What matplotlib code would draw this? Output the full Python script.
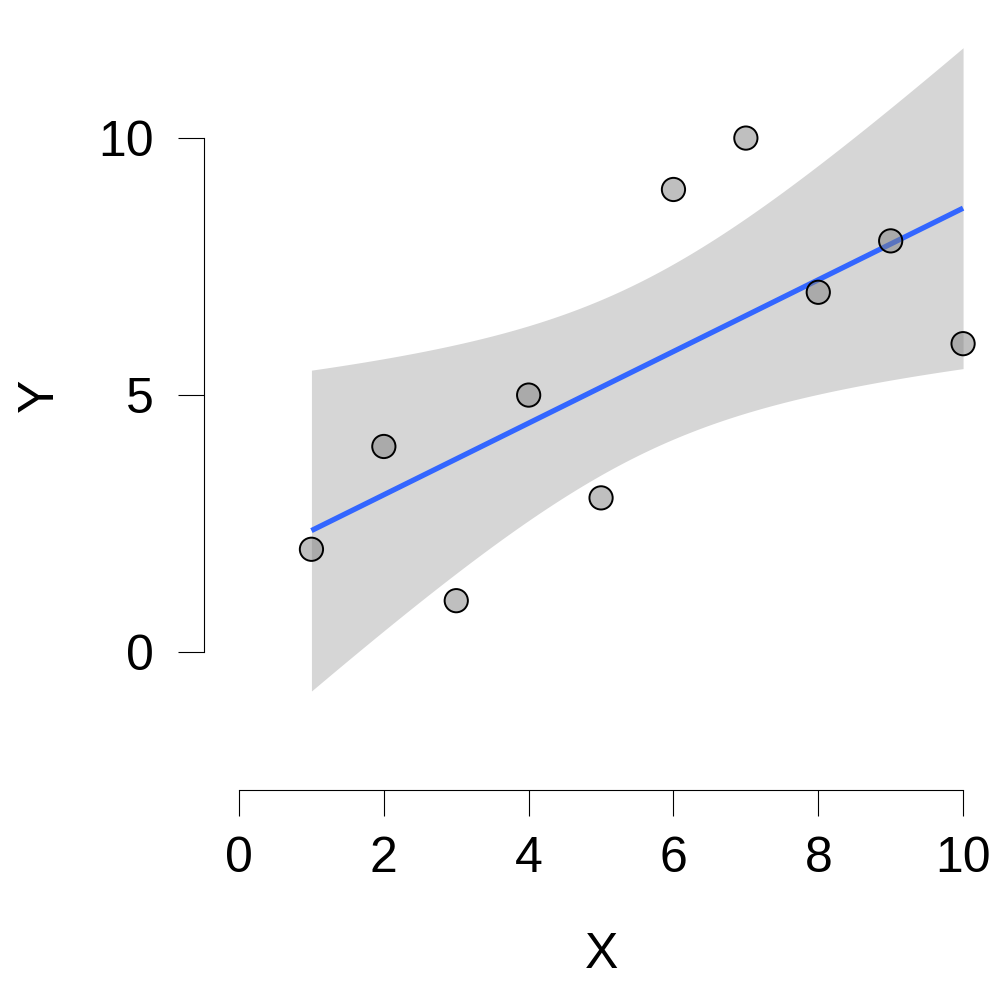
import matplotlib
matplotlib.use("Agg")
import matplotlib.pyplot as plt
import numpy as np

plt.rcParams['font.family'] = ['Liberation Sans', 'DejaVu Sans']

# data
x = np.array([1, 2, 3, 4, 5, 6, 7, 8, 9, 10])
y = np.array([2, 4, 1, 5, 3, 9, 10, 7, 8, 6])
xticks = [0, 2, 4, 6, 8, 10]
yticks = [0, 5, 10]

# linear fit with 95% confidence band
n = len(x)
slope, intercept = np.polyfit(x, y, 1)
resid = y - (intercept + slope * x)
s = np.sqrt(np.sum(resid ** 2) / (n - 2))
sxx = np.sum((x - x.mean()) ** 2)
t_crit = 2.306  # t(0.975, df=8)
xs = np.linspace(x.min(), x.max(), 200)
fit = intercept + slope * xs
se = s * np.sqrt(1 / n + (xs - x.mean()) ** 2 / sxx)

fig = plt.figure(figsize=(10, 10), dpi=100)
ax = fig.add_axes([0.1956, 0.204, 0.7892, 0.771])
ax.set_xlim(-0.6, 10.3)
ax.set_ylim(-2.8, 12.2)

ax.fill_between(xs, fit - t_crit * se, fit + t_crit * se, color='#d6d6d6', lw=0, zorder=1)
ax.plot(xs, fit, color='#3366ff', lw=3.8, zorder=2, solid_capstyle='butt')
ax.scatter(x, y, s=280, facecolor='#808080', alpha=0.5, edgecolor='none', zorder=3)
ax.scatter(x, y, s=280, facecolor='none', edgecolor='black', lw=1.4, zorder=4)

for side in ['top', 'right']:
    ax.spines[side].set_visible(False)
ax.spines['left'].set_position(('data', -0.483))
ax.spines['left'].set_bounds(0, 10)
ax.spines['bottom'].set_position(('data', -2.68))
ax.spines['bottom'].set_bounds(0, 10)
ax.spines['left'].set_linewidth(0.8)
ax.spines['bottom'].set_linewidth(0.8)

ax.set_xticks(xticks)
ax.set_yticks(yticks)
ax.tick_params(direction='out', length=19, width=0.8, labelsize=36)
ax.tick_params(axis='x', pad=14)
ax.tick_params(axis='y', pad=17.5)

fig.text(0.602, 0.045, 'X', fontsize=36, ha='center', va='center')
fig.text(0.04, 0.605, 'Y', fontsize=36, ha='center', va='center', rotation=90)

plt.savefig("out.png", dpi=100)
